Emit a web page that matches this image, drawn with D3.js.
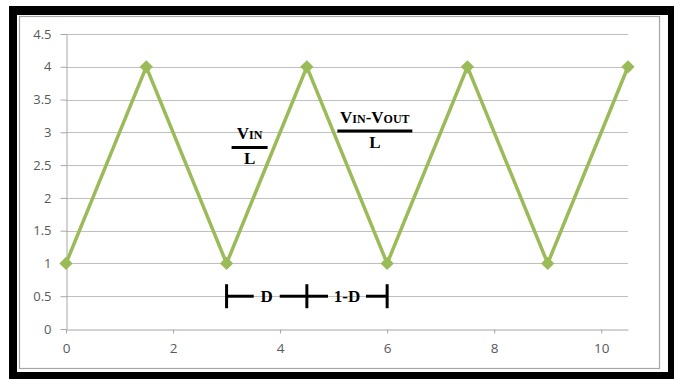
<!DOCTYPE html>
<html>
<head>
<meta charset="utf-8">
<script src="https://cdn.jsdelivr.net/npm/d3@7"></script>
<style>
  body { margin: 0; background: #fff; }
  svg { display: block; }
</style>
</head>
<body>
<div id="chart"></div>
<script>
// inductor current, triangle wave
const xValues = [0, 1.5, 3, 4.5, 6, 7.5, 9, 10.5];
const yValues = [1, 4, 1, 4, 1, 4, 1, 4];
const xTicks = [0, 2, 4, 6, 8, 10];
const yTicks = [0, 0.5, 1, 1.5, 2, 2.5, 3, 3.5, 4, 4.5];
const dutyMarks = [3, 4.5, 6];
const dutyLabels = ["D", "1-D"];

const W = 678, H = 379;
const margin = {left: 66, right: 50, top: 34, bottom: 50};

const svg = d3.select("#chart").append("svg")
    .attr("width", W)
    .attr("height", H);

// frame
svg.append("rect").attr("x", 9).attr("y", 6).attr("width", 665).attr("height", 373).attr("fill", "#000");
svg.append("rect").attr("x", 17).attr("y", 15).attr("width", 651).attr("height", 357).attr("fill", "#fff");
svg.append("rect").attr("x", 19.5).attr("y", 16.5).attr("width", 640).attr("height", 352)
    .attr("fill", "none").attr("stroke", "#a6a6a6").attr("stroke-width", 1.2);

const x = d3.scaleLinear().domain([0, 10.5]).range([margin.left, W - margin.right]);
const y = d3.scaleLinear().domain([0, 4.5]).range([H - margin.bottom, margin.top]);

// grid
svg.append("g")
    .selectAll("line")
    .data(yTicks.filter(d => d > 0))
    .join("line")
    .attr("x1", x(0)).attr("x2", x(10.5))
    .attr("y1", d => Math.round(y(d)) + 0.5).attr("y2", d => Math.round(y(d)) + 0.5)
    .attr("stroke", "#bfbfbf").attr("stroke-width", 1);

const xAxis = svg.append("g")
    .attr("transform", `translate(0,${Math.round(y(0)) + 0.5})`)
    .call(d3.axisBottom(x).tickValues(xTicks).tickSize(4).tickPadding(10).tickSizeOuter(0));
const yAxis = svg.append("g")
    .attr("transform", `translate(${Math.round(x(0)) + 0.5},0)`)
    .call(d3.axisLeft(y).tickValues(yTicks).tickFormat(d => String(d))
        .tickSize(6).tickPadding(9).tickSizeOuter(0));

[xAxis, yAxis].forEach(g => {
    g.select(".domain").attr("stroke", "#a6a6a6");
    g.selectAll(".tick line").attr("stroke", "#a6a6a6");
    g.selectAll("text").attr("fill", "#595959")
        .attr("font-family", "'Open Sans', sans-serif");
});
xAxis.selectAll("text").attr("font-size", "13.5px");
yAxis.selectAll("text").attr("font-size", "13px");

// series
const pts = xValues.map((d, i) => [d, yValues[i]]);
svg.append("path")
    .datum(pts)
    .attr("fill", "none")
    .attr("stroke", "#9bbb59")
    .attr("stroke-width", 3.5)
    .attr("d", d3.line().x(d => x(d[0])).y(d => y(d[1])));

const diamond = d3.symbol().type(d3.symbolSquare).size(88);
svg.append("g")
    .selectAll("path")
    .data(pts)
    .join("path")
    .attr("d", diamond)
    .attr("fill", "#9bbb59")
    .attr("transform", d => `translate(${x(d[0])},${y(d[1])}) rotate(45)`);

// slope labels
const serif = "'Liberation Serif', 'Times New Roman', serif";
function fraction(cx, cy, halfWidth, parts) {
    const g = svg.append("g").attr("font-family", serif).attr("font-weight", "bold").attr("fill", "#000");
    const t = g.append("text").attr("x", cx).attr("y", cy - 8).attr("text-anchor", "middle");
    parts.forEach(p => {
        t.append("tspan").attr("font-size", p.small ? "12px" : "17px").text(p.t);
    });
    g.append("line")
        .attr("x1", cx - halfWidth).attr("x2", cx + halfWidth)
        .attr("y1", cy).attr("y2", cy)
        .attr("stroke", "#000").attr("stroke-width", 3);
    g.append("text").attr("x", cx).attr("y", cy + 17).attr("text-anchor", "middle")
        .attr("font-size", "17px").text("L");
}
fraction(x(3.43), y(2.77), 18, [{t: "V"}, {t: "IN", small: true}]);
fraction(x(5.77), y(3.02), 37.5, [{t: "V"}, {t: "IN", small: true}, {t: "-V"}, {t: "OUT", small: true}]);

// duty cycle markers
const dy = y(0.5);
const dg = svg.append("g").attr("stroke", "#000").attr("stroke-width", 3);
dg.selectAll("line.bar")
    .data(dutyMarks)
    .join("line")
    .attr("class", "bar")
    .attr("x1", d => x(d)).attr("x2", d => x(d))
    .attr("y1", dy - 12).attr("y2", dy + 12);

dutyMarks.slice(0, 2).forEach((d, i) => {
    const a = x(d), b = x(dutyMarks[i + 1]);
    const mid = (a + b) / 2;
    const hw = i === 0 ? 13 : 19;
    dg.append("line").attr("x1", a).attr("x2", mid - hw).attr("y1", dy).attr("y2", dy);
    dg.append("line").attr("x1", mid + hw).attr("x2", b).attr("y1", dy).attr("y2", dy);
    svg.append("text")
        .attr("x", mid).attr("y", dy + 6)
        .attr("text-anchor", "middle")
        .attr("font-family", serif).attr("font-weight", "bold").attr("font-size", "17px")
        .text(dutyLabels[i]);
});
</script>
</body>
</html>
